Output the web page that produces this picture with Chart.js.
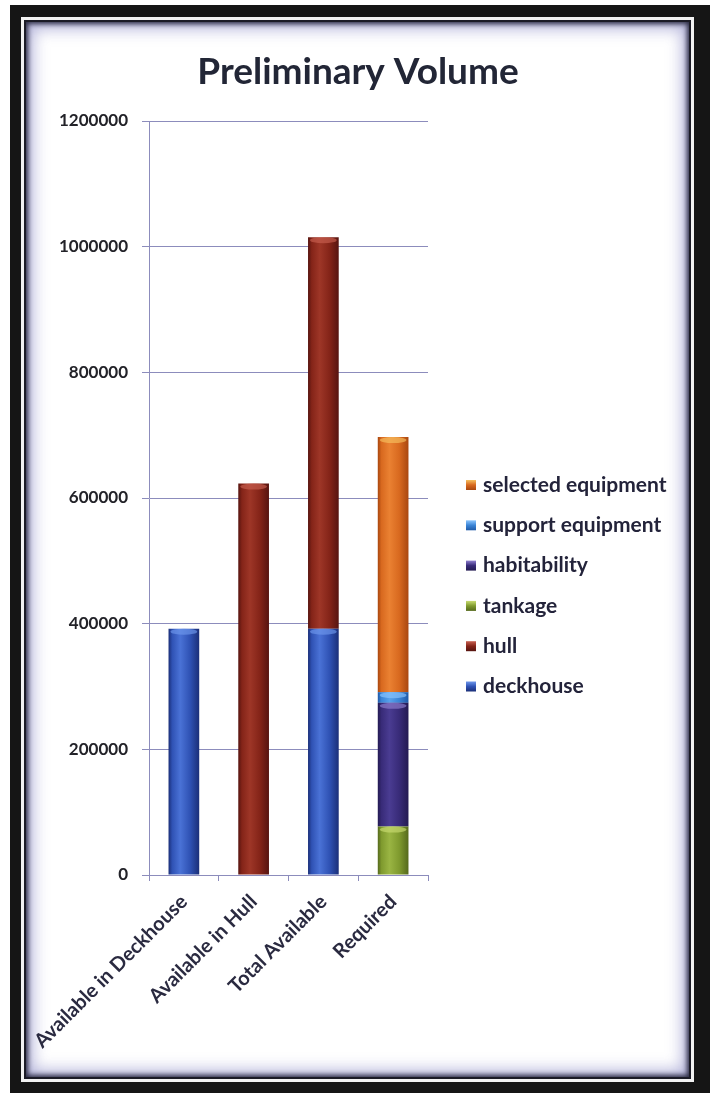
<!DOCTYPE html>
<html>
<head>
<meta charset="utf-8">
<script src="https://cdn.jsdelivr.net/npm/chart.js@4/dist/chart.umd.min.js"></script>
<style>
  html, body { margin: 0; padding: 0; background: #fff; }
  body { width: 710px; height: 1093px; position: relative; overflow: hidden; }
  .frame { position: absolute; left: 10px; top: 5px; width: 700px; height: 1088px; background: #151515; }
  .mat { position: absolute; left: 21px; top: 17px; width: 673px; height: 1065px; background: #f2f2f2; }
  .panel {
    position: absolute; left: 24px; top: 20px; width: 667px; height: 1059px; background: #fff;
    box-shadow: inset 0 0 0 2px #1b1b26, inset 0 0 5px 4px #2c2c44, inset 0 0 15px 9px rgba(120, 120, 190, 0.55);
  }
  #wrap { position: absolute; left: 0; top: 0; width: 710px; height: 1093px; }
</style>
</head>
<body>
<div class="frame"></div>
<div class="mat"></div>
<div class="panel"></div>
<div id="wrap"><canvas id="c" width="710" height="1093"></canvas></div>
<script>
// Volume breakdown per category (cubic units)
const chartTitle = 'Preliminary Volume';
const categories = ['Available in Deckhouse', 'Available in Hull', 'Total Available', 'Required'];
const deckhouse = [392000, null, 392000, null];
const hull = [null, 623000, 623000, null];
const tankage = [null, null, null, 77000];
const habitability = [null, null, null, 197000];
const supportEquipment = [null, null, null, 17000];
const selectedEquipment = [null, null, null, 406000];
const yTickValues = [0, 200000, 400000, 600000, 800000, 1000000, 1200000];

// Cylinder-style shading: dark edges, highlight left of centre
const palette = {
  deckhouse:  { dark: '#1b2f78', base: '#2f52b4', light: '#4a72d6', cap: '#6f98ec' },
  hull:       { dark: '#561410', base: '#842418', light: '#9e3627', cap: '#c86050' },
  tankage:    { dark: '#55691c', base: '#7f9a2e', light: '#9ab543', cap: '#c9dc72' },
  habit:      { dark: '#231a52', base: '#382b78', light: '#4a3c92', cap: '#8f7fd0' },
  support:    { dark: '#1f5aa8', base: '#3a84d6', light: '#58a2ec', cap: '#8cc6ff' },
  selected:   { dark: '#a9470f', base: '#d8691f', light: '#ea8132', cap: '#f6c060' }
};

const BAR_PCT = 0.44;

function shaded(p) {
  return (ctx) => {
    const chart = ctx.chart;
    const xs = chart.scales && chart.scales.x;
    if (!chart.chartArea || !xs) return p.base;
    const cx = xs.getPixelForValue(ctx.dataIndex);
    const hw = (chart.chartArea.width / categories.length) * BAR_PCT / 2;
    const g = chart.ctx.createLinearGradient(cx - hw, 0, cx + hw, 0);
    g.addColorStop(0, p.dark);
    g.addColorStop(0.12, p.base);
    g.addColorStop(0.38, p.light);
    g.addColorStop(0.7, p.base);
    g.addColorStop(1, p.dark);
    return g;
  };
}

const series = [
  { label: 'deckhouse', data: deckhouse, p: palette.deckhouse },
  { label: 'hull', data: hull, p: palette.hull },
  { label: 'tankage', data: tankage, p: palette.tankage },
  { label: 'habitability', data: habitability, p: palette.habit },
  { label: 'support equipment', data: supportEquipment, p: palette.support },
  { label: 'selected equipment', data: selectedEquipment, p: palette.selected }
];

// Light elliptical cap on top of every bar segment
const capPlugin = {
  id: 'caps',
  afterDatasetsDraw(chart) {
    const ctx = chart.ctx;
    chart.data.datasets.forEach((ds, i) => {
      const meta = chart.getDatasetMeta(i);
      meta.data.forEach((el, j) => {
        if (ds.data[j] == null) return;
        const w = el.width;
        ctx.save();
        ctx.globalAlpha = 0.65;
        ctx.fillStyle = ds.capColor;
        ctx.beginPath();
        ctx.ellipse(el.x, el.y + 3, w / 2 - 2, 3, 0, 0, Math.PI * 2);
        ctx.fill();
        ctx.restore();
      });
    });
  }
};

// Heading centred across the whole card, plus a vertical legend
// to the right of the plot (top entry = top of the stack)
const sideLegend = {
  id: 'sideLegend',
  afterDraw(chart) {
    const ctx = chart.ctx;
    ctx.save();
    ctx.font = 'bold 37px Lato';
    ctx.fillStyle = '#222636';
    ctx.textAlign = 'center';
    ctx.textBaseline = 'alphabetic';
    ctx.fillText(chartTitle, 358, 84);

    const items = chart.data.datasets.slice().reverse();
    const x0 = 466, y0 = 485, step = 40.3, box = 10;
    ctx.font = 'bold 21px Lato';
    ctx.textBaseline = 'middle';
    ctx.textAlign = 'left';
    items.forEach((ds, k) => {
      const y = y0 + k * step;
      const g = ctx.createLinearGradient(0, y - box / 2, 0, y + box / 2);
      g.addColorStop(0, ds.capColor);
      g.addColorStop(0.5, ds.baseColor);
      g.addColorStop(1, ds.darkColor);
      ctx.fillStyle = g;
      ctx.fillRect(x0, y - box / 2, box, box);
      ctx.fillStyle = '#23233a';
      ctx.fillText(ds.label, x0 + 17, y);
    });
    ctx.restore();
  }
};

const gridColor = '#8c8cbc';

new Chart(document.getElementById('c'), {
  type: 'bar',
  data: {
    labels: categories,
    datasets: series.map(s => ({
      label: s.label,
      data: s.data,
      backgroundColor: shaded(s.p),
      borderWidth: 0,
      capColor: s.p.cap,
      baseColor: s.p.base,
      darkColor: s.p.dark,
      categoryPercentage: 1,
      barPercentage: BAR_PCT
    }))
  },
  options: {
    responsive: false,
    animation: false,
    devicePixelRatio: 1,
    layout: { padding: { left: 49, right: 282, top: 121, bottom: 38 } },
    plugins: {
      legend: { display: false },
      tooltip: { enabled: false },
      title: { display: false }
    },
    scales: {
      x: {
        stacked: true,
        grid: { display: true, drawOnChartArea: false, drawTicks: true, tickLength: 6, offset: true, color: gridColor },
        border: { color: gridColor, width: 1 },
        ticks: {
          autoSkip: false, minRotation: 45, maxRotation: 45, padding: 9,
          color: '#2a2a40', font: { family: 'Lato', size: 20, weight: 'bold' }
        },
        afterFit(s) { s.height = 180; s.paddingLeft = 0; s.paddingRight = 0; }
      },
      y: {
        stacked: true,
        min: 0,
        max: 1200000,
        grid: { color: gridColor, tickLength: 7, drawTicks: true },
        border: { color: gridColor, width: 1 },
        ticks: {
          padding: 14,
          color: '#222228',
          font: { family: 'Lato', size: 17, weight: 'bold' },
          callback: (v) => String(v)
        },
        afterBuildTicks(s) { s.ticks = yTickValues.map(v => ({ value: v })); },
        afterFit(s) { s.width = 100; s.paddingTop = 0; s.paddingBottom = 0; }
      }
    }
  },
  plugins: [capPlugin, sideLegend]
});
</script>
</body>
</html>
